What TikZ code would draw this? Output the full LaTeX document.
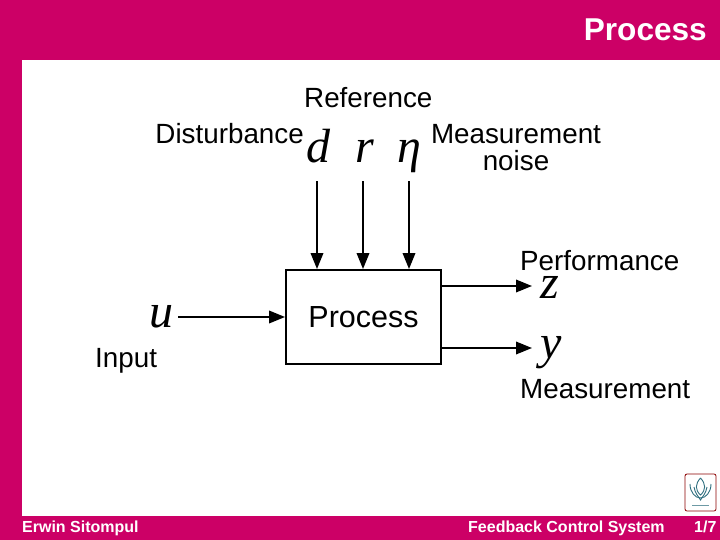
\documentclass[tikz,border=0pt]{standalone}
\usepackage{fontspec}
\setmainfont{Liberation Sans}
\newfontfamily\symfont{Liberation Serif}
\usetikzlibrary{positioning,arrows.meta}
\definecolor{slidered}{HTML}{CC0066}
\definecolor{logoteal}{HTML}{2F6F7F}
\begin{document}
\begin{tikzpicture}[
  x=1pt,y=-1pt,
  every node/.style={inner sep=0pt,font=\fontsize{27.8}{28}\selectfont},
  lbl/.style={anchor=base west},
  symb/.style={font=\fontsize{48}{48}\selectfont\symfont\itshape},
  topsym/.style={symb,anchor=base,text height=33pt,text depth=18pt},
  foot/.style={anchor=base west,text=white,font=\fontsize{16}{16}\selectfont\bfseries},
  arrow/.style={-{Triangle[length=16pt,width=12.5pt]},line width=1.9pt}
]
  \useasboundingbox (0,0) rectangle (720,540);
  \fill[slidered] (0,0) rectangle (720,540);
  \fill[white] (22,60) rectangle (720,516);
  \node[anchor=base east,text=white,font=\fontsize{31.6}{32}\selectfont\bfseries] (title) at (707,41) {Process};
  \node[lbl] (reflbl) at (304,108) {Reference};
  \node[anchor=base east] (distlbl) at (304,144) {Disturbance};
  \node[anchor=base,align=center] (noiselbl) at (516,171) {Measurement\\[-1pt]noise};
  \node[lbl] (perflbl) at (520,270) {Performance};
  \node[lbl] (measlbl) at (520,398) {Measurement};
  \node[lbl] (inlbl) at (95,367) {Input};
  \node[topsym] (d) at (317,163) {\kern3pt d};
  \node[topsym] (r) at (363,163) {\kern3pt r};
  \node[topsym] (eta) at (409,163) {η};
  \node[draw,line width=1.9pt,minimum width=155pt,minimum height=94pt,font=\fontsize{30.5}{30.5}\selectfont] (proc) at (363.5,317) {Process};
  \node[symb,anchor=east,inner xsep=4pt,text height=20pt,text depth=0pt] (u) at (178,317) {u};
  \node[symb,anchor=west,inner xsep=8pt,text height=24pt,text depth=0pt] (z) at (532,286) {z};
  \node[symb,anchor=west,inner xsep=8pt,text height=31pt,text depth=11pt] (y) at (532,348) {y};
  \draw[arrow] (d) -- (d |- proc.north);
  \draw[arrow] (r) -- (r |- proc.north);
  \draw[arrow] (eta) -- (eta |- proc.north);
  \draw[arrow] (u) -- (proc.west);
  \draw[arrow] (z.west -| proc.east) -- (z);
  \draw[arrow] (y.west -| proc.east) -- (y);
  \draw[red!55!black,line width=.8pt,rounded corners=2pt] (685,474) rectangle (716,511);
  \draw[logoteal,line width=.9pt] (700.5,478) .. controls (695,484) and (695,490) .. (700.5,495) .. controls (706,490) and (706,484) .. (700.5,478);
  \draw[logoteal,line width=.9pt] (690,484) .. controls (690,492) and (695,498) .. (700.5,498) .. controls (706,498) and (711,492) .. (711,484);
  \draw[logoteal,line width=.9pt] (694,487) .. controls (695,493) and (698,496) .. (700.5,500) .. controls (703,496) and (706,493) .. (707,487);
  \draw[logoteal!70,line width=1pt] (692,505) -- (709,505);
  \node[foot] (author) at (22,532) {Erwin Sitompul};
  \node[foot] (course) at (468,532) {Feedback Control System};
  \node[foot] (page) at (694,532) {1/7};
\end{tikzpicture}
\end{document}
